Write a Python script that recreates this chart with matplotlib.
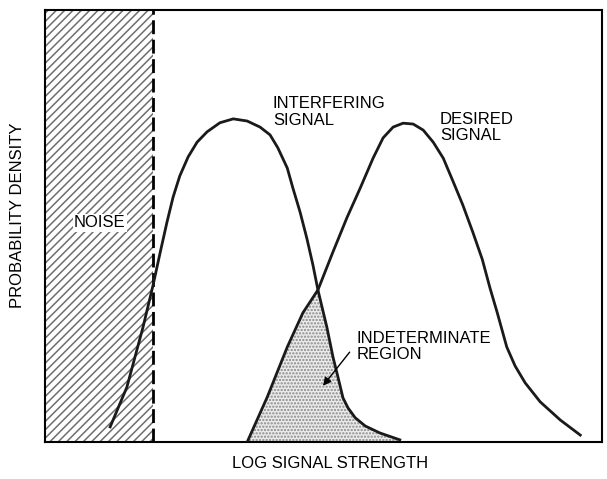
import numpy as np
import matplotlib
matplotlib.use("Agg")
import matplotlib.pyplot as plt

plt.rcParams['font.family'] = ['Liberation Sans', 'DejaVu Sans']
plt.rcParams['hatch.linewidth'] = 1.1

# curves (x: log signal strength, y: probability density)
interf_x = [1.17, 1.47, 1.76, 1.94, 2.07, 2.19, 2.30, 2.42, 2.57, 2.73, 2.91, 3.14,
            3.38, 3.63, 3.86, 4.04, 4.18, 4.35, 4.45, 4.58, 4.70, 4.81, 4.90, 5.06,
            5.17, 5.26, 5.35, 5.44, 5.57, 5.75, 6.01, 6.37]
interf_y = [0.035, 0.127, 0.266, 0.363, 0.440, 0.509, 0.567, 0.616, 0.660, 0.694, 0.718, 0.739,
            0.748, 0.743, 0.729, 0.711, 0.681, 0.634, 0.588, 0.532, 0.472, 0.410, 0.352, 0.266,
            0.197, 0.150, 0.102, 0.079, 0.056, 0.037, 0.021, 0.005]

desired_x = [3.63, 3.99, 4.35, 4.63, 4.90, 5.17, 5.42, 5.66, 5.89, 6.07, 6.25, 6.43,
             6.61, 6.79, 6.97, 7.15, 7.33, 7.50, 7.68, 7.85, 7.99, 8.12, 8.29, 8.44,
             8.62, 8.89, 9.25, 9.61]
desired_y = [0.0, 0.104, 0.220, 0.299, 0.352, 0.440, 0.519, 0.588, 0.657, 0.704, 0.729, 0.738,
             0.736, 0.722, 0.694, 0.657, 0.602, 0.549, 0.486, 0.423, 0.356, 0.299, 0.220, 0.176,
             0.137, 0.093, 0.051, 0.016]

noise_edge = 1.94
cross_x = 4.90

fig = plt.figure(figsize=(6.07, 4.79), dpi=100)
ax = fig.add_axes([45 / 607, 37 / 479, 557 / 607, 432 / 479])
ax.set_xlim(0, 10)
ax.set_ylim(0, 1)
ax.set_xticks([])
ax.set_yticks([])
for s in ax.spines.values():
    s.set_linewidth(1.5)

ax.axvspan(0, noise_edge, facecolor='white', edgecolor='#6e6e6e', hatch='////', lw=0, zorder=1)
ax.axvline(noise_edge, color='black', lw=2, ls=(0, (5, 2)), zorder=3)

ix = np.array(interf_x)
iy = np.array(interf_y)
dx = np.array(desired_x)
dy = np.array(desired_y)

# indeterminate region: under desired up to the crossing, then under interfering
px = np.concatenate([dx[dx <= cross_x], ix[ix > cross_x]])
py = np.concatenate([dy[dx <= cross_x], iy[ix > cross_x]])
px = np.concatenate([px, [px[-1]]])
py = np.concatenate([py, [0]])
ax.fill(px, py, facecolor='#ececec', edgecolor='#888888', hatch='.....', lw=0, zorder=1)

ax.plot(ix, iy, color='#1a1a1a', lw=2, zorder=4, solid_joinstyle='round')
ax.plot(dx, dy, color='#1a1a1a', lw=2, zorder=4, solid_joinstyle='round')

fs = 12
ax.text(0.52, 0.507, 'NOISE', fontsize=fs, ha='left', va='center', zorder=5,
        bbox=dict(facecolor='white', edgecolor='none', pad=1))
ax.text(4.09, 0.80, 'INTERFERING\nSIGNAL', fontsize=fs, ha='left', va='top', linespacing=1.12)
ax.text(7.09, 0.765, 'DESIRED\nSIGNAL', fontsize=fs, ha='left', va='top', linespacing=1.12)
ax.text(5.60, 0.258, 'INDETERMINATE\nREGION', fontsize=fs, ha='left', va='top', linespacing=1.12)
ax.annotate('', xy=(4.96, 0.125), xytext=(5.50, 0.213),
            arrowprops=dict(arrowstyle='-|>', color='black', lw=1.0, mutation_scale=12), zorder=5)

fig.text(330 / 607, 1 - 463 / 479, 'LOG SIGNAL STRENGTH', fontsize=fs, ha='center', va='center')
fig.text(18 / 607, 1 - 215 / 479, 'PROBABILITY DENSITY', fontsize=fs, rotation=90,
         ha='center', va='center')

fig.savefig('out.png', dpi=100)
